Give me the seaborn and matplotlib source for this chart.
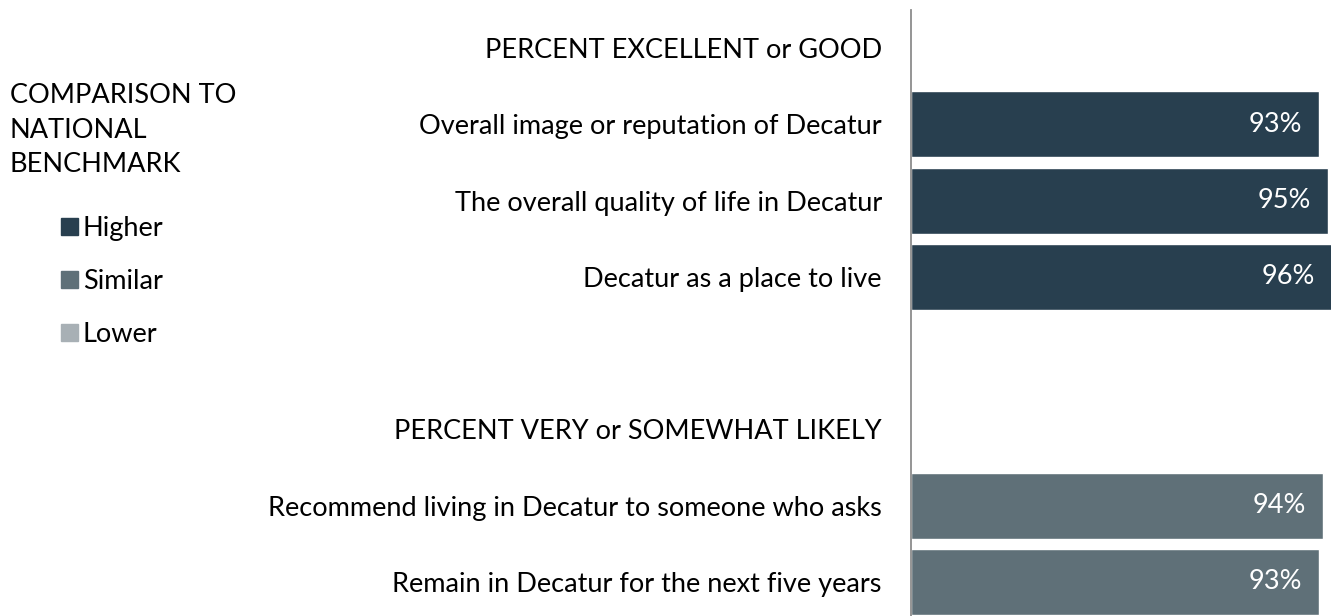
import matplotlib.pyplot as plt
import seaborn as sns
import pandas as pd
from matplotlib.patches import Patch

# chart data
items = ["Overall image or reputation of Decatur",
         "The overall quality of life in Decatur",
         "Decatur as a place to live",
         "Recommend living in Decatur to someone who asks",
         "Remain in Decatur for the next five years"]
pct = [93, 95, 96, 94, 93]
bench = ["Higher", "Higher", "Higher", "Similar", "Similar"]
header_good = "PERCENT EXCELLENT or GOOD"
header_likely = "PERCENT VERY or SOMEWHAT LIKELY"
bench_levels = ["Higher", "Similar", "Lower"]
bench_colors = {"Higher": "#283F4F", "Similar": "#5F7078", "Lower": "#A8B0B5"}

row_order = [header_good] + items[:3] + ["", header_likely] + items[3:]

df = pd.DataFrame({"item": items, "pct": pct, "bench": bench})

sns.set_style("white")
plt.rcParams["font.family"] = ["Lato", "DejaVu Sans"]
FS = 19.5

W, H, DPI = 1331, 616, 100
fig = plt.figure(figsize=(W / DPI, H / DPI), dpi=DPI)
ax = fig.add_axes([911 / W, -4 / H, (W - 911) / W, 610 / H])

sns.barplot(data=df, y="item", x="pct", hue="bench", order=row_order,
            hue_order=bench_levels, palette=bench_colors, orient="h",
            width=0.865, dodge=False, legend=False, ax=ax, saturation=1)

ax.set_xlim(0, (W - 911) / 4.387)
ax.set_xlabel("")
ax.set_ylabel("")
ax.set_xticks([])
ax.tick_params(axis="y", length=0, pad=21, labelsize=FS, labelcolor="black")
for s in ["top", "right", "bottom"]:
    ax.spines[s].set_visible(False)
ax.spines["left"].set_color("#8C8C8C")
ax.spines["left"].set_linewidth(1.3)

# percent labels inside the bar ends
for bar in ax.patches:
    w = bar.get_width()
    if w != w or w == 0:
        continue
    ax.annotate(f"{w:.0f}%", (w, bar.get_y() + bar.get_height() / 2),
                xytext=(-12.2, 0), textcoords="offset points",
                ha="right", va="center", color="white", fontsize=FS,
                annotation_clip=False)

fig.text(10 / W, 1 - 130 / H, "COMPARISON TO\nNATIONAL\nBENCHMARK",
         ha="left", va="center", fontsize=FS, color="black", linespacing=1.46)

handles = [Patch(color=bench_colors[k], label=k) for k in bench_levels]
fig.legend(handles=handles, loc="upper left", bbox_to_anchor=(37 / W, 1 - 192 / H),
           frameon=False, fontsize=FS, handlelength=0.6, handleheight=0.6,
           handletextpad=0.19, labelspacing=1.03, labelcolor="black")

fig.savefig("out.png", dpi=DPI)
